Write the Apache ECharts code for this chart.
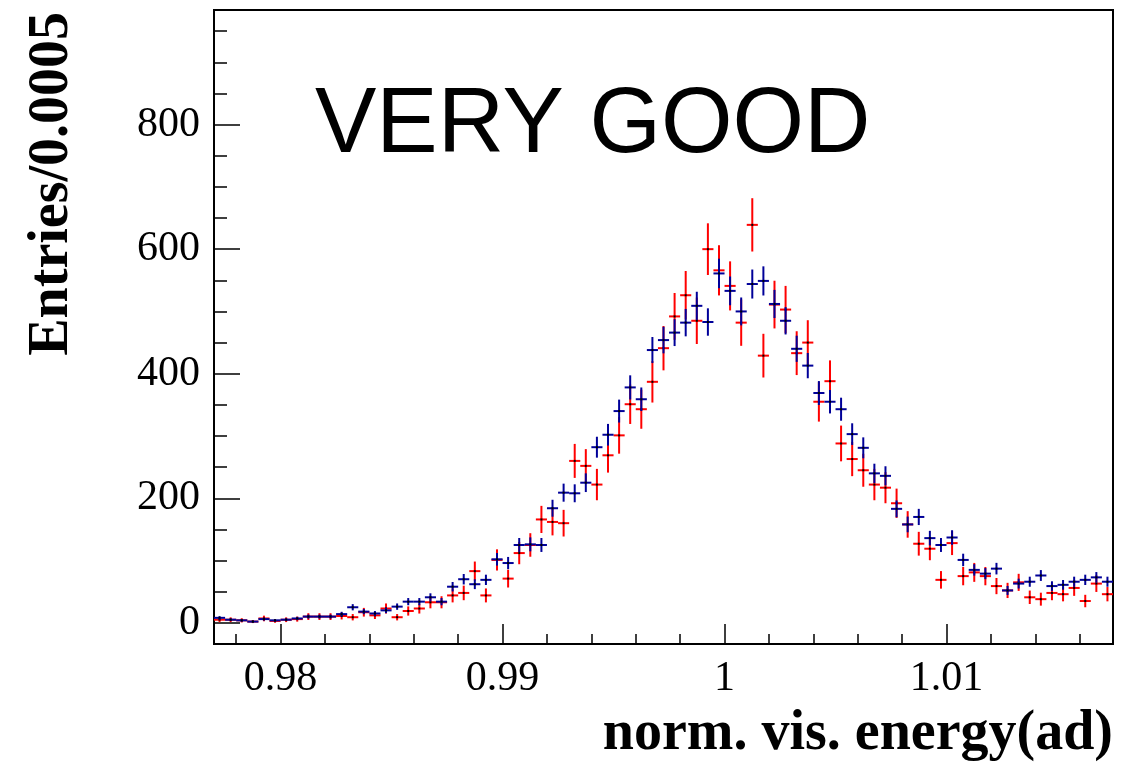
<!DOCTYPE html>
<html><head><meta charset="utf-8">
<script src="https://cdn.jsdelivr.net/npm/echarts@6/dist/echarts.min.js"></script>
<style>html,body{margin:0;padding:0;background:#fff}#c{width:1141px;height:767px}</style>
</head><body><div id="c"></div>
<script>
// Histogram bin centres (bin width 0.0005)
const binCenters = [
  0.97725,0.97775,0.97825,0.97875,0.97925,0.97975,0.98025,0.98075,0.98125,0.98175,
  0.98225,0.98275,0.98325,0.98375,0.98425,0.98475,0.98525,0.98575,0.98625,0.98675,
  0.98725,0.98775,0.98825,0.98875,0.98925,0.98975,0.99025,0.99075,0.99125,0.99175,
  0.99225,0.99275,0.99325,0.99375,0.99425,0.99475,0.99525,0.99575,0.99625,0.99675,
  0.99725,0.99775,0.99825,0.99875,0.99925,0.99975,1.00025,1.00075,1.00125,1.00175,
  1.00225,1.00275,1.00325,1.00375,1.00425,1.00475,1.00525,1.00575,1.00625,1.00675,
  1.00725,1.00775,1.00825,1.00875,1.00925,1.00975,1.01025,1.01075,1.01125,1.01175,
  1.01225,1.01275,1.01325,1.01375,1.01425,1.01475,1.01525,1.01575,1.01625,1.01675,1.01725
];
// Blue (navy) histogram
const blueCounts = [
  8,5,4,2,6,4,5,7,10,10,
  10,14,25,18,15,20,26,34,34,41,
  34,58,70,62,69,102,96,125,126,125,
  184,209,208,225,282,302,340,378,359,438,
  454,466,482,509,483,561,533,500,544,549,
  512,485,440,413,369,355,343,303,281,240,
  236,183,158,170,136,125,137,101,85,79,
  87,52,63,66,76,59,61,66,69,73,66
];
const blueErrors = [
  2.8,2.2,2.0,1.4,2.4,2.0,2.2,2.6,3.2,3.2,
  3.2,3.7,5.0,4.2,3.9,4.5,5.1,5.8,5.8,6.4,
  5.8,7.6,8.4,7.9,8.3,10.1,9.8,11.2,11.2,11.2,
  13.6,14.5,14.4,15.0,16.8,17.4,18.4,19.4,18.9,20.9,
  21.3,21.6,22.0,22.6,22.0,23.7,23.1,22.4,23.3,23.4,
  22.6,22.0,21.0,20.3,19.2,18.8,18.5,17.4,16.8,15.5,
  15.4,13.5,12.6,13.0,11.7,11.2,11.7,10.0,9.2,8.9,
  9.3,7.2,7.9,8.1,8.7,7.7,7.8,8.1,8.3,8.5,8.1
];
// Red histogram
const redCounts = [
  5,5,4,2,7,3,5,6,10,10,
  10,11,9,17,12,23,9,19,23,33,
  33,44,48,83,44,101,71,112,125,166,
  162,160,260,252,222,269,301,351,343,387,
  441,492,526,485,600,566,541,482,639,429,
  511,503,433,450,355,388,288,263,245,222,
  217,192,158,127,119,69,128,75,81,75,
  59,52,65,41,38,48,46,56,35,63,46
];
const redErrors = [
  3.8,3.8,3.4,2.4,4.5,2.9,3.8,4.1,5.4,5.4,
  5.4,5.6,5.1,7.0,5.9,8.1,5.1,7.4,8.1,9.7,
  9.7,11.2,11.7,15.4,11.2,17.0,14.3,17.9,18.9,21.8,
  21.6,21.4,27.3,26.9,25.2,27.8,29.4,31.7,31.4,33.3,
  35.6,37.6,38.9,37.3,41.5,40.3,39.4,37.2,42.8,35.1,
  38.3,38.0,35.2,35.9,31.9,33.4,28.7,27.5,26.5,25.2,
  25.0,23.5,21.3,19.1,18.5,14.1,19.2,14.7,15.2,14.7,
  13.0,12.2,13.7,10.8,10.4,11.7,11.5,12.7,10.0,13.4,11.5
];
const halfBin = 0.00025;

const chart = echarts.init(document.getElementById('c'), null, {renderer: 'canvas'});

function errItem(color) {
  return function (params, api) {
    const x = api.value(0), y = api.value(1), e = api.value(2);
    const pL = api.coord([x - halfBin, y]);
    const pR = api.coord([x + halfBin, y]);
    const pT = api.coord([x, y + e]);
    const pB = api.coord([x, y - e]);
    return {
      type: 'group',
      children: [
        {type: 'line', shape: {x1: pL[0], y1: pL[1], x2: pR[0], y2: pR[1]}, style: {stroke: color, lineWidth: 2}},
        {type: 'line', shape: {x1: pT[0], y1: pT[1], x2: pB[0], y2: pB[1]}, style: {stroke: color, lineWidth: 2}},
        {type: 'rect', shape: {x: pL[0] + (pR[0] - pL[0]) / 2 - 1, y: pL[1] - 1, width: 2, height: 2}, style: {fill: '#000'}}
      ]
    };
  };
}

const serifFont = '"Liberation Serif", "Times New Roman", serif';

chart.setOption({
  animation: false,
  backgroundColor: '#fff',
  grid: {left: 214, right: 28, top: 10, bottom: 123, show: true, borderColor: '#000', borderWidth: 2, backgroundColor: 'transparent'},
  xAxis: {
    type: 'value', min: 0.977, max: 1.0175, splitNumber: 4,
    axisLine: {onZero: false, lineStyle: {color: '#000', width: 2}},
    axisTick: {inside: true, length: 20, lineStyle: {color: '#000', width: 1.5}},
    minorTick: {show: true, splitNumber: 5, length: 10, lineStyle: {color: '#000', width: 1.5}},
    splitLine: {show: false},
    axisLabel: {
      showMinLabel: false, showMaxLabel: false, margin: 14,
      color: '#000', fontFamily: serifFont, fontSize: 42,
      formatter: v => String(+(+v).toFixed(4))
    }
  },
  yAxis: {
    type: 'value', min: -34, max: 984, splitNumber: 5,
    axisLine: {onZero: false, lineStyle: {color: '#000', width: 2}},
    axisTick: {inside: true, length: 26, lineStyle: {color: '#000', width: 1.5}},
    minorTick: {show: true, splitNumber: 4, length: 13, lineStyle: {color: '#000', width: 1.5}},
    splitLine: {show: false},
    axisLabel: {
      showMinLabel: false, showMaxLabel: false, margin: 14,
      color: '#000', fontFamily: serifFont, fontSize: 42
    }
  },
  graphic: [
    {type: 'text', x: 1113, y: 707, style: {text: 'norm. vis. energy(ad)', fill: '#000', font: 'bold 56px ' + serifFont, align: 'right', verticalAlign: 'top'}},
    {type: 'text', x: 25, y: 12, rotation: Math.PI / 2, style: {text: 'Entries/0.0005', fill: '#000', font: 'bold 56px ' + serifFont, align: 'right', verticalAlign: 'top'}},
    {type: 'text', x: 315, y: 81, style: {text: 'VERY GOOD', fill: '#000', font: '92px "Liberation Sans", Arial, sans-serif', align: 'left', verticalAlign: 'top'}}
  ],
  series: [
    {type: 'custom', name: 'red', clip: true, renderItem: errItem('#ff0000'),
     encode: {x: 0, y: 1}, data: redCounts.map((v, i) => [binCenters[i], v, redErrors[i]])},
    {type: 'custom', name: 'blue', clip: true, renderItem: errItem('#000099'),
     encode: {x: 0, y: 1}, data: blueCounts.map((v, i) => [binCenters[i], v, blueErrors[i]])}
  ]
});
</script>
</body></html>
